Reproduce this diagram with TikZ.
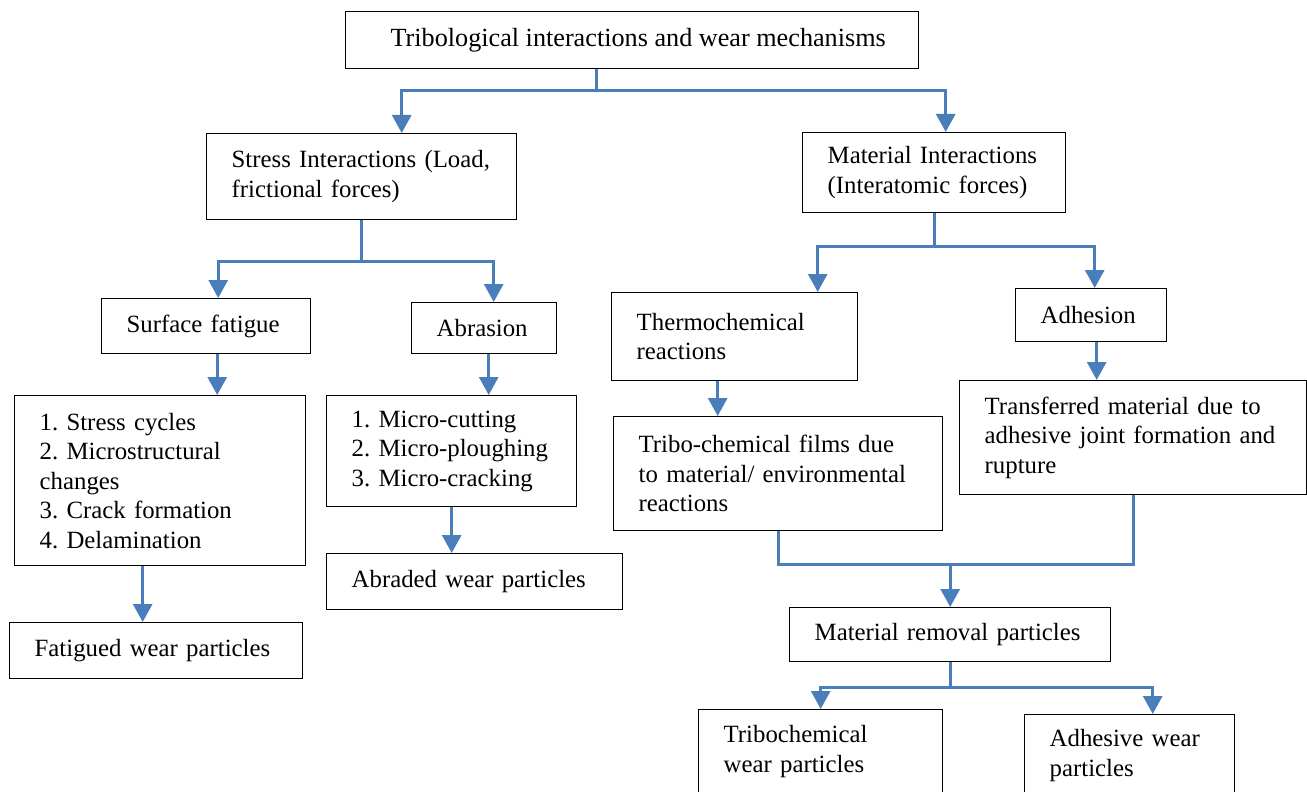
\documentclass[tikz,border=0pt]{standalone}
\usepackage{fontspec}
\setmainfont{Liberation Serif}
\usetikzlibrary{arrows.meta}
\definecolor{linkblue}{RGB}{74,126,187}

\begin{document}
\begin{tikzpicture}[x=0.5pt, y=-0.5pt, font=\fontsize{12.4}{14.75}\selectfont\frenchspacing,
  >={Triangle[length=9pt, width=9.5pt]},
  box/.style={draw, line width=0.7pt, anchor=north west, align=left,
              inner xsep=0pt, inner ysep=0pt,
              execute at begin node={\leftskip=12.5pt\rightskip=0pt plus 1fil\relax}},
  link/.style={draw=linkblue, line width=1.5pt},
  arr/.style={link, ->}]
  \clip (0,0) rectangle (1307,792);

  \node[box, align=center, inner xsep=12pt, minimum width=286.5pt, minimum height=28.5pt,
        font=\fontsize{13.1}{15}\selectfont] (top) at (345,11)
        {\hspace*{6pt}Tribological interactions and wear mechanisms};
  \node[box, text width=155pt, minimum height=43pt] (stress) at (206,133)
        {Stress Interactions (Load,\\ frictional forces)};
  \node[box, text width=131.5pt, minimum height=40pt] (matint) at (802,132)
        {Material Interactions\\ (Interatomic forces)};
  \node[box, text width=104.5pt, minimum height=27.5pt] (surface) at (101,298) {Surface fatigue};
  \node[box, text width=72.5pt, minimum height=25.5pt] (abrasion) at (411,302) {Abrasion};
  \node[box, text width=123pt, minimum height=44pt] (thermo) at (611,292)
        {Thermochemical\\ reactions};
  \node[box, text width=75.5pt, minimum height=26.5pt] (adhesion) at (1015,288) {Adhesion};
  \node[box, text width=145.5pt, minimum height=85pt] (list1) at (14,395)
        {1. Stress cycles\\ 2. Microstructural\\ changes\\ 3. Crack formation\\ 4. Delamination};
  \node[box, text width=125pt, minimum height=55.5pt] (list2) at (326,395)
        {1. Micro-cutting\\ 2. Micro-ploughing\\ 3. Micro-cracking};
  \node[box, text width=164.5pt, minimum height=57pt] (films) at (613,416)
        {Tribo-chemical films due\\ to material/ environmental\\ reactions};
  \node[box, text width=173.5pt, minimum height=57pt] (transferred) at (959,380)
        {Transferred material due to\\ adhesive joint formation and\\ rupture};
  \node[box, text width=148pt, minimum height=28pt] (abraded) at (326,553) {Abraded wear particles};
  \node[box, text width=146.5pt, minimum height=28pt] (fatigued) at (9,622) {Fatigued wear particles};
  \node[box, text width=160.5pt, minimum height=27pt] (removal) at (789,607) {Material removal particles};
  \node[box, text width=122pt, minimum height=42pt] (tribochem) at (698,709)
        {Tribochemical\\ wear particles};
  \node[box, text width=105pt, minimum height=41pt] (adhesive) at (1024,714)
        {Adhesive wear\\ particles};

  \draw[link] ([shift={(-35.5,0)}]top.south) -- ++(0,21) coordinate (j1);
  \draw[arr] (j1) -| ([shift={(40,0)}]stress.north);
  \draw[arr] (j1) -| ([shift={(11.5,0)}]matint.north);

  \draw[link] (stress.south) -- ++(0,41) coordinate (j2);
  \draw[arr] (j2) -| ([shift={(12,0)}]surface.north);
  \draw[arr] (j2) -| ([shift={(9.5,0)}]abrasion.north);

  \draw[link] (matint.south) -- ++(0,33) coordinate (j3);
  \draw[arr] (j3) -| ([shift={(83,0)}]thermo.north);
  \draw[arr] (j3) -| ([shift={(3.5,0)}]adhesion.north);

  \draw[arr] ([shift={(11,0)}]surface.south) coordinate (a) -- (a |- list1.north);
  \draw[arr] ([shift={(4.5,0)}]abrasion.south) coordinate (b) -- (b |- list2.north);
  \draw[arr] ([shift={(-17,0)}]thermo.south) coordinate (c) -- (c |- films.north);
  \draw[arr] ([shift={(5.5,0)}]adhesion.south) coordinate (d) -- (d |- transferred.north);
  \draw[arr] ([shift={(-17.5,0)}]list1.south) coordinate (e) -- (e |- fatigued.north);
  \draw[arr] (list2.south) -- (list2.south |- abraded.north);

  \draw[link] (films.south) -- ++(0,33) coordinate (j4) -| (transferred.south);
  \draw[arr] (j4 -| removal.north) -- (removal.north);

  \draw[link] (removal.south) -- ++(0,25) coordinate (j5);
  \draw[arr] (j5) -| (tribochem.north);
  \draw[arr] (j5) -| ([shift={(23,0)}]adhesive.north);
\end{tikzpicture}
\end{document}
